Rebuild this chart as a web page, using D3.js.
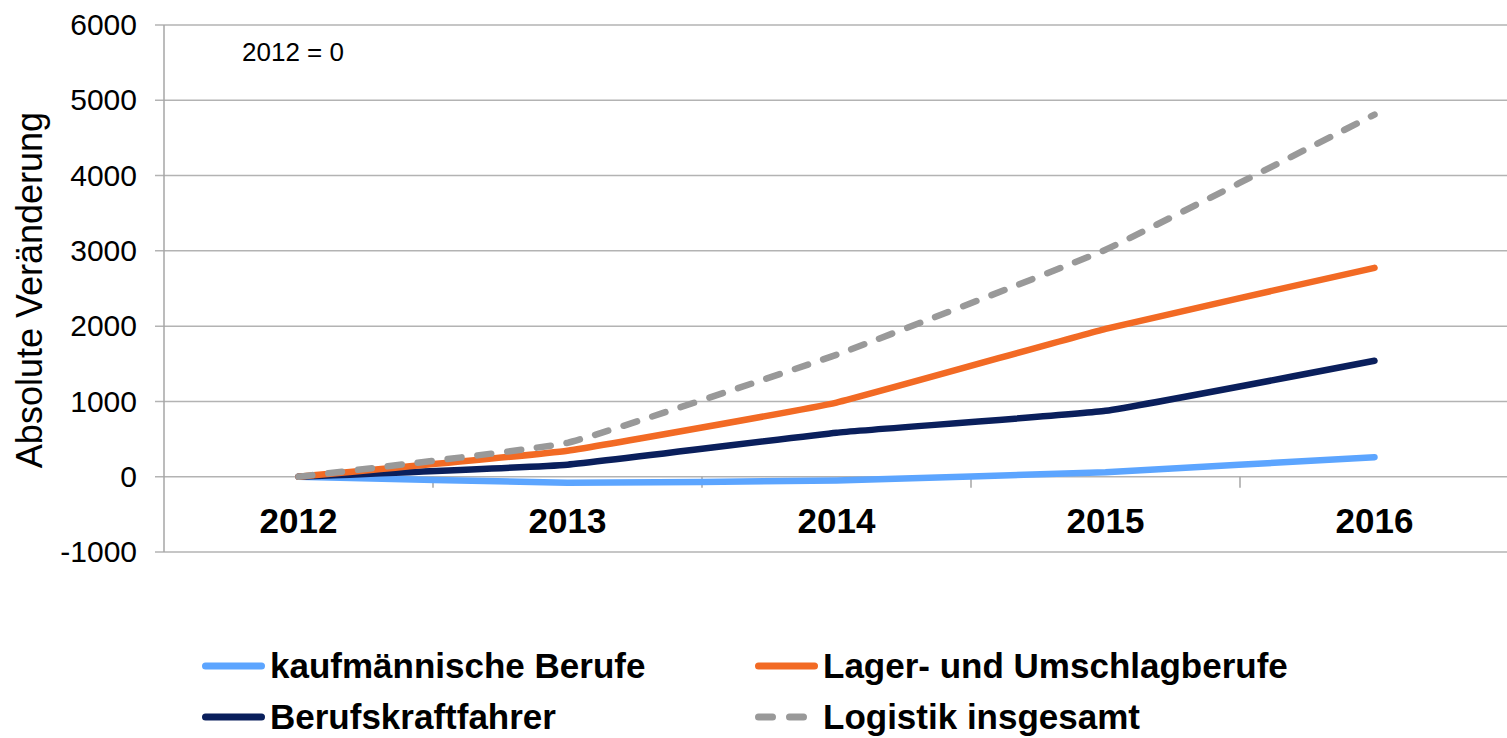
<!DOCTYPE html>
<html>
<head>
<meta charset="utf-8">
<script src="https://cdn.jsdelivr.net/npm/d3@7"></script>
<style>
  body { margin: 0; background: #fff; }
  svg { display: block; font-family: "Liberation Sans", Arial, sans-serif; }
  .grid line { stroke: #b3b3b3; stroke-width: 1.5; }
</style>
</head>
<body>
<div class="visualization"></div>
<script>
const years = ["2012", "2013", "2014", "2015", "2016"];
const kaufmaennisch = [0, -80, -50, 60, 260];
const lager = [0, 345, 985, 1965, 2775];
const fahrer = [0, 160, 585, 875, 1540];
const logistik = [0, 450, 1620, 3015, 4810];
const yTicks = [-1000, 0, 1000, 2000, 3000, 4000, 5000, 6000];

const series = [
  { name: "kaufmännische Berufe", values: kaufmaennisch, color: "#5ca5ff", dash: null },
  { name: "Lager- und Umschlagberufe", values: lager, color: "#f26a24", dash: null },
  { name: "Berufskraftfahrer", values: fahrer, color: "#0a1f5c", dash: null },
  { name: "Logistik insgesamt", values: logistik, color: "#999999", dash: "14 16" }
];

const width = 1507, height = 738;
const margin = { top: 25, right: -2, bottom: 186, left: 164 };

const svg = d3.select(".visualization")
  .append("svg")
  .attr("width", width)
  .attr("height", height);

const x = d3.scaleBand()
  .domain(years)
  .range([margin.left, width - margin.right]);

const y = d3.scaleLinear()
  .domain([-1000, 6000])
  .range([height - margin.bottom, margin.top]);

// horizontal gridlines incl. the little tick stubs on the left
svg.append("g")
  .attr("class", "grid")
  .selectAll("line")
  .data(yTicks)
  .enter().append("line")
  .attr("x1", margin.left - 9)
  .attr("x2", width)
  .attr("y1", d => y(d))
  .attr("y2", d => y(d));

// y axis
const yAxis = d3.axisLeft(y).tickValues(yTicks).tickSize(0).tickPadding(27)
  .tickFormat(d => String(d));
svg.append("g")
  .attr("class", "y-axis")
  .attr("transform", `translate(${margin.left}, 0)`)
  .call(yAxis)
  .call(g => g.select(".domain").remove())
  .selectAll("text")
  .style("font-size", "30px")
  .style("font-family", "Liberation Sans, Arial, sans-serif")
  .attr("fill", "#000");

svg.append("line")
  .attr("x1", margin.left).attr("x2", margin.left)
  .attr("y1", y(6000)).attr("y2", y(-1000))
  .attr("stroke", "#a6a6a6").attr("stroke-width", 1.5);

// x axis at zero, labels below, ticks between categories
const xAxis = d3.axisBottom(x).tickSize(0).tickPadding(31);
svg.append("g")
  .attr("class", "x-axis")
  .attr("transform", `translate(0, ${y(0)})`)
  .call(xAxis)
  .call(g => g.select(".domain").remove())
  .selectAll("text")
  .style("font-size", "35px")
  .style("font-weight", "bold")
  .style("font-family", "Liberation Sans, Arial, sans-serif")
  .attr("fill", "#000");

svg.append("g")
  .selectAll("line")
  .data(years.slice(1))
  .enter().append("line")
  .attr("x1", d => x(d)).attr("x2", d => x(d))
  .attr("y1", y(0)).attr("y2", y(0) + 11)
  .attr("stroke", "#a6a6a6").attr("stroke-width", 1.5);

// y label
svg.append("text")
  .attr("transform", `translate(42, 290) rotate(-90)`)
  .attr("text-anchor", "middle")
  .style("font-size", "36px")
  .text("Absolute Veränderung");

svg.append("text")
  .attr("x", 242).attr("y", 61)
  .style("font-size", "26px")
  .text("2012 = 0");

// lines
const line = d3.line()
  .x((d, i) => x(years[i]) + x.bandwidth() / 2)
  .y(d => y(d))
  .curve(d3.curveCardinal.tension(0.7));

const drawOrder = [0, 2, 1, 3];
svg.append("g")
  .selectAll("path")
  .data(drawOrder.map(i => series[i]))
  .enter().append("path")
  .attr("d", d => line(d.values))
  .attr("fill", "none")
  .attr("stroke", d => d.color)
  .attr("stroke-width", 6.5)
  .attr("stroke-linecap", "round")
  .attr("stroke-linejoin", "round")
  .attr("stroke-dasharray", d => d.dash);

// legend
const legendPos = [
  { x: 202, y: 666 }, { x: 755, y: 666 },
  { x: 202, y: 717 }, { x: 755, y: 717 }
];
const legend = svg.append("g")
  .selectAll("g")
  .data(series)
  .enter().append("g")
  .attr("transform", (d, i) => `translate(${legendPos[i].x}, ${legendPos[i].y})`);

legend.append("line")
  .attr("x1", 3.5).attr("x2", 59.5)
  .attr("stroke", d => d.color)
  .attr("stroke-width", 7)
  .attr("stroke-linecap", "round")
  .attr("stroke-dasharray", d => d.dash ? "14 17" : null);

legend.append("text")
  .attr("x", 68)
  .attr("dy", "0.33em")
  .style("font-size", "35px")
  .style("font-weight", "bold")
  .text(d => d.name);
</script>
</body>
</html>
